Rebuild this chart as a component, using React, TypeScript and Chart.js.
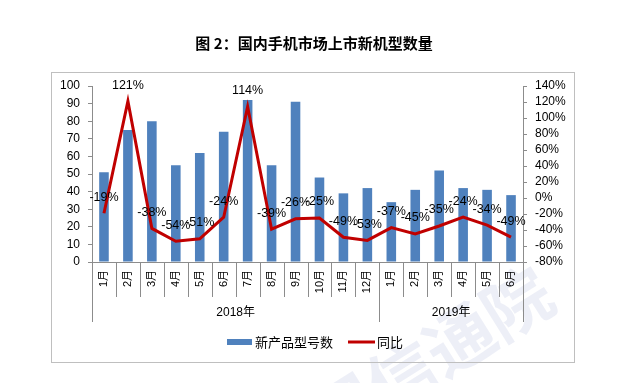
import React, { useEffect, useRef } from 'react';
import { Chart, registerables } from 'chart.js';

Chart.register(...registerables);

const months = ['1月','2月','3月','4月','5月','6月','7月','8月','9月','10月','11月','12月','1月','2月','3月','4月','5月','6月'];
const years = ['2018年', '2019年'];
const yearSpans = [12, 6];
const modelCounts = [51, 75, 80, 55, 62, 74, 92, 55, 91, 48, 39, 42, 34, 41, 52, 42, 41, 38];
const yoy = [-19, 121, -38, -54, -51, -24, 114, -39, -26, -25, -49, -53, -37, -45, -35, -24, -34, -49];
const yoyLabels = ['-19%','121%','-38%','-54%','-51%','-24%','114%','-39%','-26%','-25%','-49%','-53%','-37%','-45%','-35%','-24%','-34%','-49%'];
const titleText = '图 2：国内手机市场上市新机型数量';
const seriesNames = ['新产品型号数', '同比'];

const BAR = '#4f81bd';
const RED = '#c00000';
const AXIS = '#8c8c8c';
const FONT = '"Liberation Sans", "Noto Sans CJK SC", sans-serif';

const decorPlugin = {
  id: 'decor',
  beforeDraw(chart: any) {
    const ctx = chart.ctx;
    ctx.save();
    // watermark
    ctx.translate(517, 303);
    ctx.rotate(-32 * Math.PI / 180);
    ctx.font = 'bold 68px "Noto Sans CJK SC"';
    ctx.fillStyle = 'rgba(210,214,234,0.4)';
    ctx.textAlign = 'right';
    ctx.textBaseline = 'middle';
    ctx.fillText('中国信通院', 34, 0);
    ctx.restore();

    ctx.save();
    // frame
    ctx.strokeStyle = '#bfbfbf';
    ctx.lineWidth = 1;
    ctx.strokeRect(51.5, 72.5, 523, 290);
    // title
    ctx.fillStyle = '#000';
    ctx.font = 'bold 15px "Noto Sans CJK SC"';
    ctx.textAlign = 'center';
    ctx.textBaseline = 'middle';
    ctx.fillText(titleText, 314, 43);
    ctx.restore();
  },
  afterDraw(chart: any) {
    const ctx = chart.ctx;
    const x = chart.scales.x;
    const area = chart.chartArea;
    const n = months.length;
    ctx.save();
    ctx.strokeStyle = AXIS;
    ctx.lineWidth = 1;
    const bounds: number[] = [0];
    let acc = 0;
    yearSpans.forEach((s) => { acc += s; bounds.push(acc); });
    for (let i = 0; i <= n; i++) {
      const px = Math.round(x.getPixelForValue(i - 0.5)) + 0.5;
      const long = bounds.includes(i);
      ctx.beginPath();
      ctx.moveTo(px, area.bottom);
      ctx.lineTo(px, long ? area.bottom + 60 : area.bottom + 35);
      ctx.stroke();
    }
    // year labels
    ctx.fillStyle = '#000';
    ctx.font = '12px ' + FONT;
    ctx.textAlign = 'center';
    ctx.textBaseline = 'middle';
    let start = 0;
    years.forEach((y, k) => {
      const end = start + yearSpans[k];
      const cx = (x.getPixelForValue(start - 0.5) + x.getPixelForValue(end - 0.5)) / 2;
      ctx.fillText(y, cx, area.bottom + 51);
      start = end;
    });
    // data labels
    const meta = chart.getDatasetMeta(1);
    ctx.font = '12.5px ' + FONT;
    ctx.fillStyle = '#000';
    meta.data.forEach((pt: any, i: number) => {
      ctx.fillText(yoyLabels[i], pt.x, pt.y - 16);
    });
    // legend
    const ly = 342;
    ctx.fillStyle = BAR;
    ctx.fillRect(227, ly - 3, 25, 6);
    ctx.fillStyle = '#000';
    ctx.font = '13px "Noto Sans CJK SC"';
    ctx.textAlign = 'left';
    ctx.fillText(seriesNames[0], 255, ly);
    ctx.strokeStyle = RED;
    ctx.lineWidth = 3;
    ctx.beginPath();
    ctx.moveTo(348, ly);
    ctx.lineTo(375, ly);
    ctx.stroke();
    ctx.fillText(seriesNames[1], 377, ly);
    ctx.restore();
  },
};

export default function App() {
  const ref = useRef<HTMLCanvasElement | null>(null);
  useEffect(() => {
    document.body.style.margin = '0';
    if (!ref.current) return;
    const chart = new Chart(ref.current, {
      type: 'bar',
      data: {
        labels: months,
        datasets: [
          {
            type: 'bar',
            label: seriesNames[0],
            data: modelCounts,
            backgroundColor: BAR,
            borderWidth: 0,
            barPercentage: 0.4,
            categoryPercentage: 1,
            yAxisID: 'y',
            order: 2,
          },
          {
            type: 'line',
            label: seriesNames[1],
            data: yoy,
            borderColor: RED,
            borderWidth: 3,
            pointRadius: 0,
            tension: 0,
            fill: false,
            yAxisID: 'y1',
            order: 1,
          } as any,
        ],
      },
      options: {
        animation: false,
        responsive: false,
        maintainAspectRatio: false,
        layout: { padding: { left: 52, right: 57, top: 86, bottom: 21 } },
        plugins: {
          legend: { display: false },
          tooltip: { enabled: false },
          title: { display: false },
        },
        scales: {
          x: {
            offset: true,
            grid: { display: false, drawOnChartArea: false, drawTicks: false },
            border: { display: true, color: AXIS },
            ticks: {
              minRotation: 90,
              maxRotation: 90,
              padding: 8,
              color: '#000',
              font: { size: 11, family: FONT },
              autoSkip: false,
            },
            afterFit: (s: any) => { s.height = 100; },
          },
          y: {
            position: 'left',
            min: 0,
            max: 100,
            ticks: { stepSize: 10, autoSkip: false, color: '#000', padding: 8, font: { size: 12, family: FONT } },
            grid: { drawOnChartArea: false, drawTicks: true, tickLength: 4, color: AXIS },
            border: { display: true, color: AXIS },
            afterFit: (s: any) => { s.width = 40; },
          },
          y1: {
            position: 'right',
            min: -80,
            max: 140,
            ticks: { stepSize: 20, autoSkip: false, color: '#000', padding: 8, font: { size: 12, family: FONT }, callback: (v: any) => v + '%' },
            grid: { drawOnChartArea: false, drawTicks: true, tickLength: 4, color: AXIS },
            border: { display: true, color: AXIS },
            afterFit: (s: any) => { s.width = 50; },
          },
        },
      },
      plugins: [decorPlugin],
    });
    return () => chart.destroy();
  }, []);
  return (
    <div style={{ width: 630, height: 383 }}>
      <canvas ref={ref} width={630} height={383} style={{ width: 630, height: 383, display: 'block' }} />
    </div>
  );
}
